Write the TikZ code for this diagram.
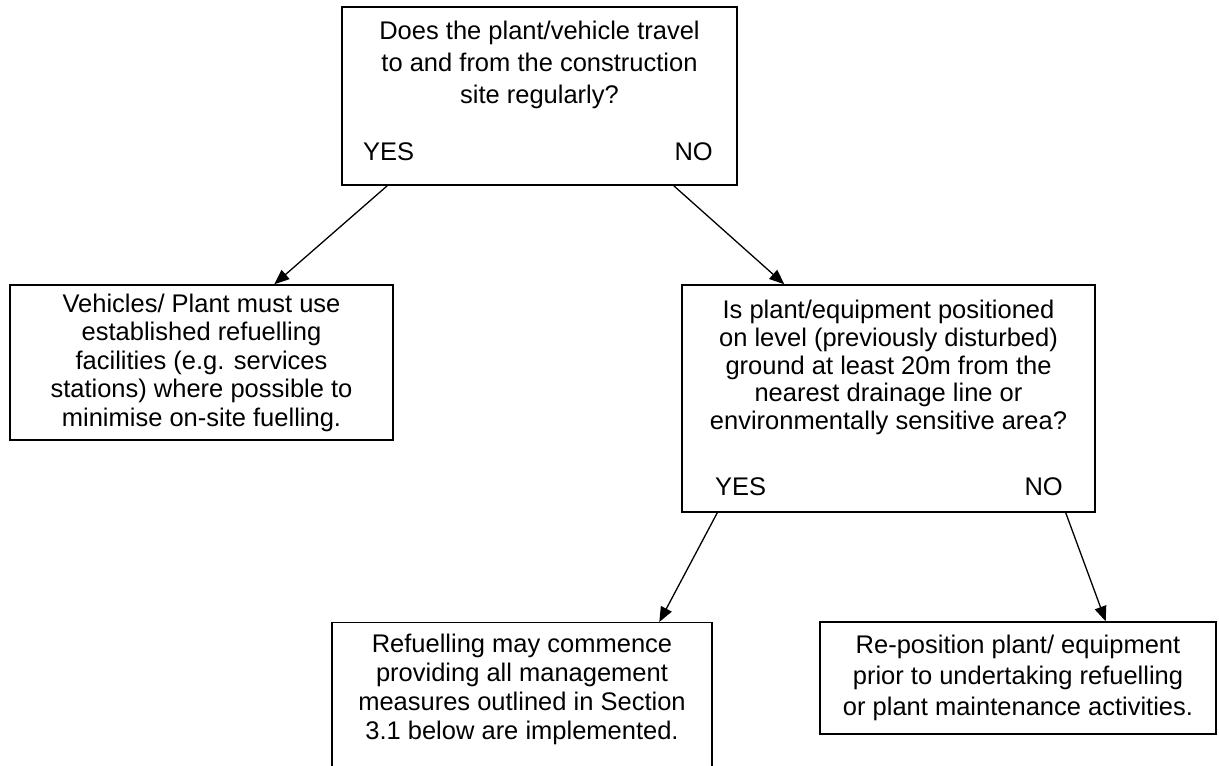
\documentclass[tikz,border=0pt]{standalone}
\usepackage{fontspec}
\setmainfont{Liberation Sans}
\usetikzlibrary{arrows.meta,calc}
\begin{document}
\begin{tikzpicture}[x=1pt,y=-1pt,
  box/.style={draw=black,line width=1.4pt,rectangle,inner sep=0pt,fill=white},
  txt/.style={align=center,inner sep=0pt,font=\fontsize{25.5}{#1}\selectfont},
  txt/.default=29,
  arr/.style={line width=1.3pt,-{Triangle[length=15pt,width=12pt]}}
]
\useasboundingbox (0,0) rectangle (1219,766);
% top question
\node[box,minimum width=395pt,minimum height=178pt] (q1box) at (539.5,96) {};
\node[txt=32] (q1) at (539.5,65) {Does the plant/vehicle travel\\to and from the construction\\site regularly?};
\node[txt,anchor=west] (yes1) at (363,152) {YES};
\node[txt,anchor=east] (no1) at (713,152) {NO};
% left answer
\node[box,txt=28.5,minimum width=383pt,minimum height=155pt] (a1) at (201.5,362.5) {Vehicles/ Plant must use\\established refuelling\\facilities (e.g. services\\stations) where possible to\\minimise on-site fuelling.};
% second question
\node[box,minimum width=413pt,minimum height=227pt] (q2box) at (888.5,398.5) {};
\node[txt=27.8] (q2) at (888.5,367.5) {Is plant/equipment positioned\\on level (previously disturbed)\\ground at least 20m from the\\nearest drainage line or\\environmentally sensitive area?};
\node[txt,anchor=west] (yes2) at (715,487) {YES};
\node[txt,anchor=east] (no2) at (1063,487) {NO};
% bottom left answer
\node[box,minimum width=380pt,minimum height=170pt,anchor=north] (a2box) at (522,622) {};
\node[txt=29] (a2) at (522,689) {Refuelling may commence\\providing all management\\measures outlined in Section\\3.1 below are implemented.};
% bottom right answer
\node[box,txt=31,minimum width=396pt,minimum height=112pt] (a3) at (1018,678) {Re-position plant/ equipment\\prior to undertaking refuelling\\or plant maintenance activities.};
% connectors
\draw[arr] ([xshift=46pt]q1box.south west) -- ([xshift=265pt]a1.north west);
\draw[arr] ([xshift=-64pt]q1box.south east) -- ([xshift=103pt]q2box.north west);
\draw[arr] ([xshift=36pt]q2box.south west) -- ([xshift=328pt]a2box.north west);
\draw[arr] ([xshift=-30pt]q2box.south east) -- ([xshift=-111pt]a3.north east);
\end{tikzpicture}
\end{document}
